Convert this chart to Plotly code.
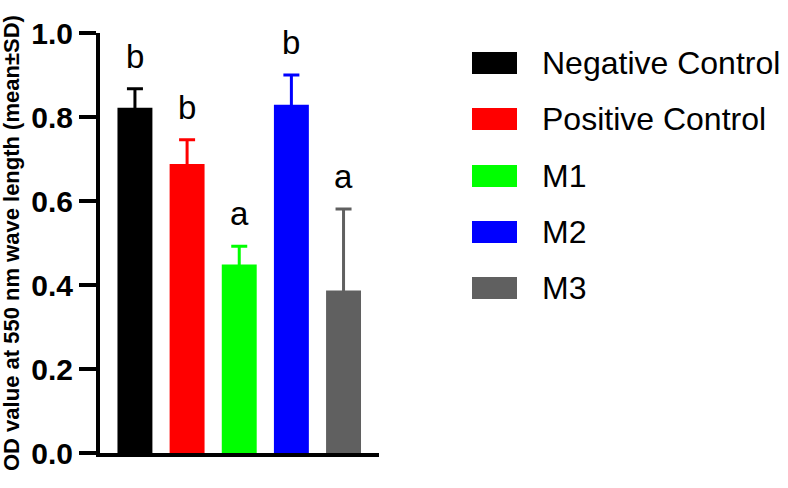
import plotly.graph_objects as go

categories = ["Negative Control", "Positive Control", "M1", "M2", "M3"]
means = [0.822, 0.688, 0.449, 0.829, 0.387]
sds = [0.045, 0.058, 0.043, 0.071, 0.194]
letters = ["b", "b", "a", "b", "a"]
colors = ["#000000", "#ff0000", "#00ff00", "#0000ff", "#606060"]
y_ticks = [0.0, 0.2, 0.4, 0.6, 0.8, 1.0]

W, H = 788, 488
L, R, T, B = 100, 409, 33, 35
pw, ph = W - L - R, H - T - B

def px_x(p):
    return (p - L) / pw

def px_y(p):
    return (H - B - p) / ph

# hide the lower error cap inside the bar (style only)
cap_hide = 0.005

fig = go.Figure()
for cat, m, s, c in zip(categories, means, sds, colors):
    fig.add_trace(go.Bar(
        x=[cat], y=[m], width=0.67,
        marker=dict(color=c, line=dict(width=0)),
        error_y=dict(type="data", array=[s], arrayminus=[cap_hide], symmetric=False,
                     color=c, thickness=3, width=8),
        showlegend=False,
    ))

font_fam = "Arial, Liberation Sans, sans-serif"
annotations = []
for cat, m, s, lt in zip(categories, means, sds, letters):
    annotations.append(dict(x=cat, y=m + s, xref="x", yref="y", text=lt,
                            showarrow=False, yanchor="bottom", yshift=12,
                            font=dict(family=font_fam, size=33, color="black")))

# y title
annotations.append(dict(x=px_x(11), y=0.5, xref="paper", yref="paper",
                        text="<b>OD value at 550 nm wave length (mean±SD)</b>",
                        textangle=-90, showarrow=False, xanchor="center", yanchor="middle",
                        font=dict(family=font_fam, size=22, color="black")))

# manual legend
shapes = []
row_centers = [63, 119, 176, 232, 288]
for cat, c, yc in zip(categories, colors, row_centers):
    shapes.append(dict(type="rect", xref="paper", yref="paper",
                       x0=px_x(472), x1=px_x(517), y0=px_y(yc + 11), y1=px_y(yc - 11),
                       fillcolor=c, line=dict(width=0)))
    annotations.append(dict(x=px_x(540), y=px_y(yc), xref="paper", yref="paper",
                            text=cat, showarrow=False, xanchor="left", yanchor="middle",
                            font=dict(family=font_fam, size=32, color="black")))

fig.update_layout(
    width=W, height=H,
    margin=dict(l=L, r=R, t=T, b=B, pad=0),
    plot_bgcolor="white", paper_bgcolor="white",
    barmode="overlay",
    showlegend=False,
    annotations=annotations,
    shapes=shapes,
    xaxis=dict(range=[-0.67, 4.68], showticklabels=False, ticks="",
               showline=True, linecolor="black", linewidth=4, showgrid=False,
               zeroline=False),
    yaxis=dict(range=[0, 1], tickvals=y_ticks, ticktext=[f"{v:.1f}" for v in y_ticks],
               ticks="outside", ticklen=17, tickwidth=4, tickcolor="black",
               showline=True, linecolor="black", linewidth=4, showgrid=False,
               zeroline=False, ticklabelstandoff=0,
               tickfont=dict(family=font_fam, size=30, color="black", weight="bold")),
)

fig.write_html("out.html", config={"displayModeBar": False},
               post_script="document.body.style.margin='0px';document.body.style.padding='0px';")
